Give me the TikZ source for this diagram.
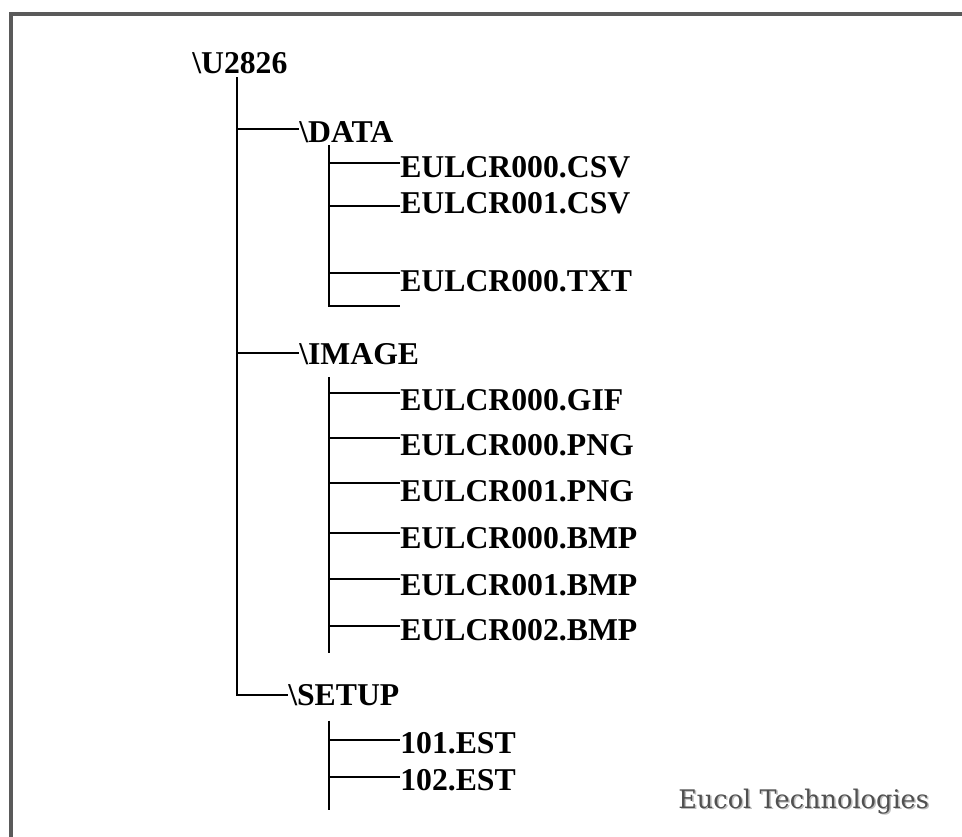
\documentclass[tikz,border=0pt]{standalone}
\usepackage{fontspec}
\setmainfont{Liberation Serif}
\newfontfamily\brandfont{DejaVu Serif}
\definecolor{framegray}{HTML}{5A5A5A}
\definecolor{brandgray}{HTML}{505050}
\definecolor{shadowgray}{HTML}{BEBEBE}
\begin{document}
\begin{tikzpicture}[x=0.75pt,y=-0.75pt,
  lbl/.style={anchor=base west,inner sep=0pt,font=\fontsize{23.8pt}{26pt}\selectfont\bfseries},
  link/.style={line width=1.5pt,black},
  brand/.style={anchor=base west,inner sep=0pt,font=\fontsize{19.2pt}{22pt}\selectfont\brandfont}]
\useasboundingbox (0,0) rectangle (962,837);
% frame
\fill[framegray] (9,12) rectangle (962,16);
\fill[framegray] (9,12) rectangle (13,837);
% labels
\node[lbl] (root) at (192,74) {\textbackslash U2826};
\node[lbl] (data) at (299,142.7) {\textbackslash DATA};
\node[lbl] (csv0) at (400,178) {EULCR000.CSV};
\node[lbl] (csv1) at (400,214) {EULCR001.CSV};
\node[lbl] (txt0) at (400,292) {EULCR000.TXT};
\node[lbl] (image) at (299,364.3) {\textbackslash IMAGE};
\node[lbl] (gif0) at (400,410) {EULCR000.GIF};
\node[lbl] (png0) at (400,455.5) {EULCR000.PNG};
\node[lbl] (png1) at (400,501.7) {EULCR001.PNG};
\node[lbl] (bmp0) at (400,548.3) {EULCR000.BMP};
\node[lbl] (bmp1) at (400,595) {EULCR001.BMP};
\node[lbl] (bmp2) at (400,640.7) {EULCR002.BMP};
\node[lbl] (setup) at (288,705) {\textbackslash SETUP};
\node[lbl] (est1) at (400,753.3) {101.EST};
\node[lbl] (est2) at (400,790) {102.EST};
\node[brand,text=shadowgray] (brandshadow) at (679.5,809.5) {Eucol Technologies};
\node[brand,text=brandgray] (brand) at (678,808) {Eucol Technologies};
% joints
\coordinate (rtop) at (237,77.5);
\coordinate (rbot) at (237,695);
\coordinate (rdata) at (237,129.3);
\coordinate (rimage) at (237,353.3);
\coordinate (dtop) at (329,145);
\coordinate (dbot) at (329,306);
\coordinate (d1) at (329,162.7);
\coordinate (d2) at (329,206);
\coordinate (d3) at (329,273.3);
\coordinate (dend) at (400,306);
\coordinate (itop) at (329,377);
\coordinate (ibot) at (329,653.3);
\coordinate (i1) at (329,392.7);
\coordinate (i2) at (329,437.7);
\coordinate (i3) at (329,483.3);
\coordinate (i4) at (329,532.7);
\coordinate (i5) at (329,579);
\coordinate (i6) at (329,625.7);
\coordinate (stop) at (329,720.7);
\coordinate (sbot) at (329,810);
\coordinate (s1) at (329,740);
\coordinate (s2) at (329,777.3);
% root trunk
\draw[link] (rtop) -- (rbot) -- (rbot -| setup.west);
\draw[link] (rdata) -- (rdata -| data.west);
\draw[link] (rimage) -- (rimage -| image.west);
% DATA
\draw[link] (dtop) -- (dbot) -- (dend);
\draw[link] (d1) -- (d1 -| csv0.west);
\draw[link] (d2) -- (d2 -| csv1.west);
\draw[link] (d3) -- (d3 -| txt0.west);
% IMAGE
\draw[link] (itop) -- (ibot);
\draw[link] (i1) -- (i1 -| gif0.west);
\draw[link] (i2) -- (i2 -| png0.west);
\draw[link] (i3) -- (i3 -| png1.west);
\draw[link] (i4) -- (i4 -| bmp0.west);
\draw[link] (i5) -- (i5 -| bmp1.west);
\draw[link] (i6) -- (i6 -| bmp2.west);
% SETUP
\draw[link] (stop) -- (sbot);
\draw[link] (s1) -- (s1 -| est1.west);
\draw[link] (s2) -- (s2 -| est2.west);
\end{tikzpicture}
\end{document}
